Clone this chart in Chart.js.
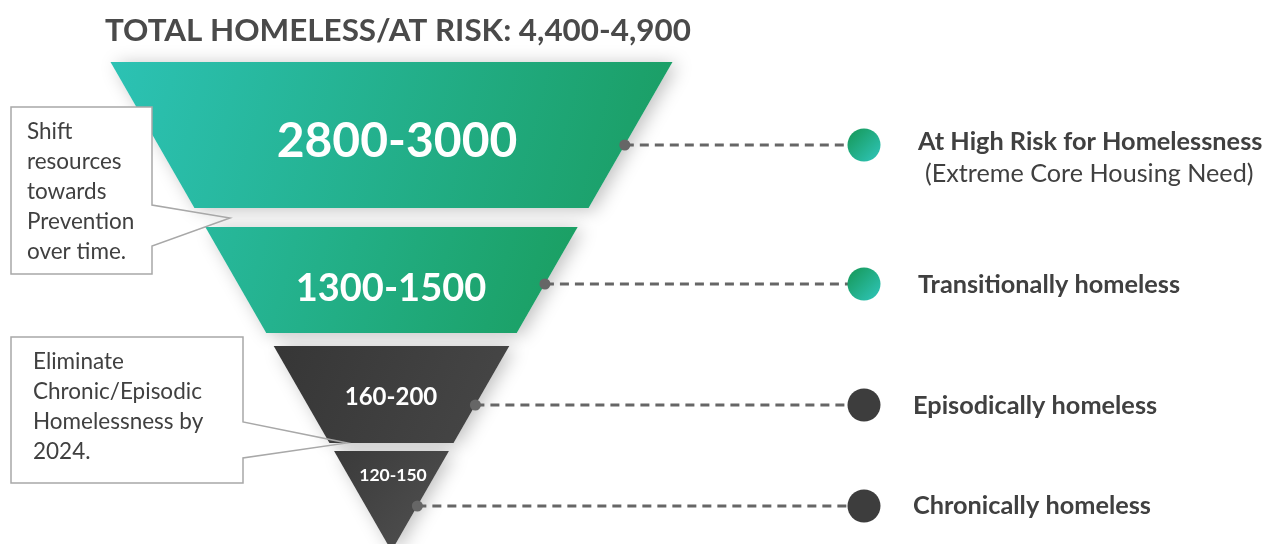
<!DOCTYPE html>
<html>
<head>
<meta charset="utf-8">
<script src="https://cdn.jsdelivr.net/npm/chart.js@4.4.0/dist/chart.umd.min.js"></script>
<style>
  html, body { margin: 0; background: #fff; }
  #wrap { width: 1275px; height: 544px; position: relative; }
</style>
</head>
<body>
<div id="wrap"><canvas id="funnel"></canvas></div>
<script>
// ---- data ----
const chartTitle = 'TOTAL HOMELESS/AT RISK: 4,400-4,900';
const levelNames = ['At High Risk for Homelessness', 'Transitionally homeless', 'Episodically homeless', 'Chronically homeless'];
const levelNotes = ['(Extreme Core Housing Need)', '', '', ''];
const levelRanges = ['2800-3000', '1300-1500', '160-200', '120-150'];
const calloutLines = [
  ['Shift', 'resources', 'towards', 'Prevention', 'over time.'],
  ['Eliminate', 'Chronic/Episodic', 'Homelessness by', '2024.']
];

// ---- layout (scale units = pixels of the 1275x544 picture) ----
const W = 1275, H = 544;
const FUNNEL = { cx: 391.5, top: 62, halfTop: 281, apex: 551 };
const bands = [[62, 208], [227, 333], [346, 443], [451, 551]];
const bandColors = [['#2cc2b4', '#1a9d62'], ['#27b89c', '#1a9e60'], ['#363636', '#474747'], ['#3a3a3a', '#525252']];
const rowY = [145, 284, 405, 506];
const dotX = 864;
const rangeX = [397, 391, 391, 393];
const rangeY = [142, 289, 397, 475];
const rangeSize = [48, 38, 24, 17.5];
const nameX = [918, 918, 913, 913];
const nameY = [142, 285, 406, 506];
const callouts = [
  { left: 11, top: 107, right: 152, bottom: 274, p1: 205, tipX: 230, tipY: 218, p2: 246, textX: 27, textY: 132 },
  { left: 11, top: 337, right: 243, bottom: 483, p1: 422, tipX: 347, tipY: 443, p2: 458, textX: 33, textY: 362 }
];
const FONT = 'Lato, "Open Sans", sans-serif';

function halfWidth(y) {
  return FUNNEL.halfTop * (FUNNEL.apex - y) / (FUNNEL.apex - FUNNEL.top);
}

function gradient(chart, x0, y0, x1, y1, stops, fallback) {
  const sx = chart.scales.x, sy = chart.scales.y;
  if (!sx || !sy || !chart.chartArea) return fallback;
  const px = [sx.getPixelForValue(x0), sy.getPixelForValue(y0), sx.getPixelForValue(x1), sy.getPixelForValue(y1)];
  if (!px.every(Number.isFinite)) return fallback;
  const g = chart.ctx.createLinearGradient(px[0], px[1], px[2], px[3]);
  g.addColorStop(0, stops[0]);
  g.addColorStop(1, stops[1]);
  return g;
}

function bandFill(i) {
  return (ctx) => {
    const [t, b] = bands[i];
    return gradient(ctx.chart, FUNNEL.cx - halfWidth(t), t, FUNNEL.cx + halfWidth(t), b, bandColors[i], bandColors[i][0]);
  };
}

function dotFill(ctx) {
  const i = ctx.dataIndex;
  if (i >= 2) return '#3d3d3d';
  const p = ctx.raw;
  if (!p) return '#22ad86';
  return gradient(ctx.chart, p.x - 14, p.y - 14, p.x + 14, p.y + 14, ['#179a5c', '#2ec3b5'], '#22ad86');
}

// funnel bands as filled shapes
const bandSets = bands.map(([t, b], i) => ({
  label: levelRanges[i],
  data: [
    { x: FUNNEL.cx - halfWidth(t), y: t },
    { x: FUNNEL.cx + halfWidth(t), y: t },
    { x: FUNNEL.cx + halfWidth(b), y: b },
    { x: FUNNEL.cx - halfWidth(b), y: b }
  ],
  fill: 'shape',
  backgroundColor: bandFill(i),
  borderColor: 'rgba(0,0,0,0)',
  borderWidth: 0,
  pointRadius: 0,
  order: 3
}));

// dashed leader lines
const leaderSets = rowY.map((y, i) => ({
  label: levelNames[i],
  data: [{ x: FUNNEL.cx + halfWidth(y), y: y }, { x: dotX, y: y }],
  borderColor: '#666666',
  borderWidth: 3,
  borderDash: [9, 6],
  pointRadius: [5.5, 0],
  pointBackgroundColor: '#666666',
  pointBorderWidth: 0,
  fill: false,
  order: 2
}));

const dotSet = {
  label: 'markers',
  data: rowY.map(y => ({ x: dotX, y: y })),
  showLine: false,
  pointRadius: 16.5,
  pointBackgroundColor: dotFill,
  pointBorderWidth: 0,
  order: 1
};

// soft shadow behind the funnel
const shadowPlugin = {
  id: 'funnelShadow',
  beforeDatasetsDraw(chart) {
    const c = chart.ctx;
    c.save();
    c.shadowColor = 'rgba(0,0,0,0.25)';
    c.shadowBlur = 18;
    c.shadowOffsetX = 5;
    c.shadowOffsetY = 2;
    c.fillStyle = '#fff';
    bands.forEach((b, i) => {
      const pts = chart.getDatasetMeta(i).data;
      c.beginPath();
      pts.forEach((p, k) => k ? c.lineTo(p.x, p.y) : c.moveTo(p.x, p.y));
      c.closePath();
      c.fill();
    });
    c.restore();
  }
};

// labels, title and callouts
const textPlugin = {
  id: 'funnelText',
  afterDatasetsDraw(chart) {
    const c = chart.ctx;
    const sx = chart.scales.x, sy = chart.scales.y;
    c.save();
    c.textBaseline = 'middle';

    c.fillStyle = '#ffffff';
    c.textAlign = 'center';
    levelRanges.forEach((r, i) => {
      c.font = `bold ${rangeSize[i]}px ${FONT}`;
      c.fillText(r, sx.getPixelForValue(rangeX[i]), sy.getPixelForValue(rangeY[i]));
    });

    c.textAlign = 'left';
    c.fillStyle = '#404040';
    levelNames.forEach((n, i) => {
      c.font = `bold 25.3px ${FONT}`;
      c.fillText(n, sx.getPixelForValue(nameX[i]), sy.getPixelForValue(nameY[i]));
      if (levelNotes[i]) {
        c.font = `25.2px ${FONT}`;
        c.fillText(levelNotes[i], sx.getPixelForValue(nameX[i] + 7), sy.getPixelForValue(nameY[i] + 32));
      }
    });

    c.fillStyle = '#4a4a4a';
    c.font = `bold 31.4px ${FONT}`;
    c.fillText(chartTitle, sx.getPixelForValue(105), sy.getPixelForValue(31));

    callouts.forEach((b, k) => {
      const L = sx.getPixelForValue(b.left), R = sx.getPixelForValue(b.right);
      const T = sy.getPixelForValue(b.top), B = sy.getPixelForValue(b.bottom);
      c.fillStyle = '#fff';
      c.fillRect(L, T, R - L, B - T);
      c.beginPath();
      c.moveTo(L, T);
      c.lineTo(R, T);
      c.lineTo(R, sy.getPixelForValue(b.p1));
      c.lineTo(sx.getPixelForValue(b.tipX), sy.getPixelForValue(b.tipY));
      c.lineTo(R, sy.getPixelForValue(b.p2));
      c.lineTo(R, B);
      c.lineTo(L, B);
      c.closePath();
      c.strokeStyle = '#a8a8a8';
      c.lineWidth = 1.5;
      c.stroke();
      c.fillStyle = '#404040';
      c.font = `22.5px ${FONT}`;
      calloutLines[k].forEach((line, j) => {
        c.fillText(line, sx.getPixelForValue(b.textX), sy.getPixelForValue(b.textY + j * 30));
      });
    });
    c.restore();
  }
};

new Chart(document.getElementById('funnel'), {
  type: 'line',
  data: { datasets: [...bandSets, ...leaderSets, dotSet] },
  options: {
    responsive: true,
    maintainAspectRatio: false,
    animation: false,
    events: [],
    layout: { padding: 0, autoPadding: false },
    scales: {
      x: { type: 'linear', min: 0, max: W, display: false },
      y: { type: 'linear', min: 0, max: H, reverse: true, display: false }
    },
    plugins: {
      legend: { display: false },
      tooltip: { enabled: false }
    }
  },
  plugins: [shadowPlugin, textPlugin]
});
</script>
</body>
</html>
